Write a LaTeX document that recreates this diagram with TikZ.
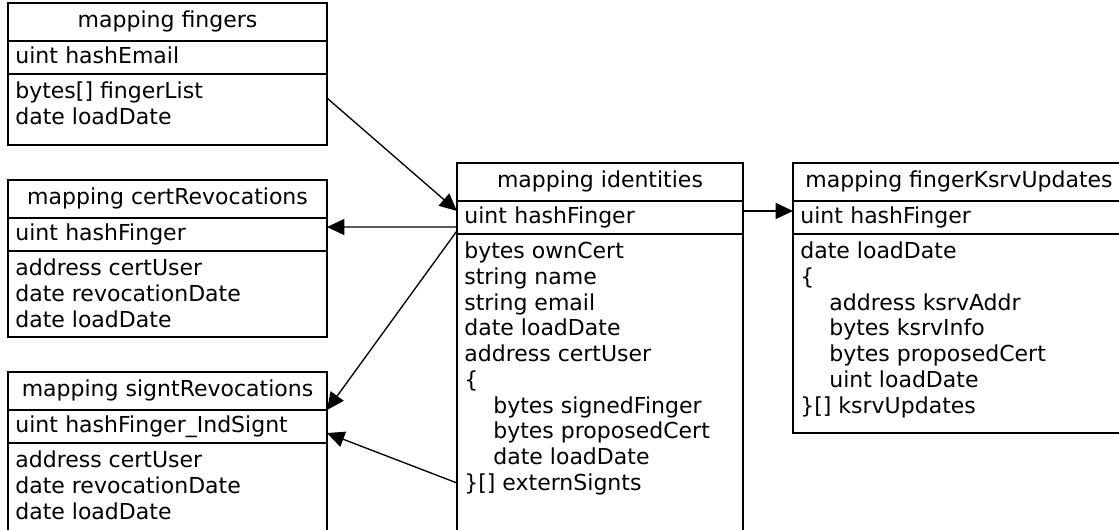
\documentclass[tikz,border=0pt]{standalone}
\usepackage{fontspec}
\setmainfont{DejaVu Sans}
\usetikzlibrary{arrows.meta,positioning}

\begin{document}
\begin{tikzpicture}[x=0.75pt,y=-0.75pt,>={Triangle[length=13pt,width=12pt]},
 line width=1pt,
 every node/.style={font=\fontsize{16.5pt}{19.3pt}\selectfont,outer sep=0pt},
 title/.style={draw,anchor=north,minimum height=28.5pt,inner sep=0pt,
 text height=12.5pt,text depth=3.9pt},
 keyrow/.style={draw,minimum height=24.75pt,inner xsep=5.5pt,inner ysep=0pt,
 text height=12.5pt,text depth=3.9pt,align=left},
 bodyrow/.style={draw,inner sep=0pt},
 fields/.style={anchor=north west,align=left,inner xsep=5.5pt,inner ysep=6pt}]
\useasboundingbox (0,0) rectangle (1119,529);
% mapping fingers
\node[title,minimum width=239.25pt] (fing-title) at (167.5,3) {mapping fingers};
\node[keyrow,text width=228.25pt,below=0pt of fing-title] (fing-key) {uint hashEmail};
\node[bodyrow,minimum width=239.25pt,minimum height=53.25pt,below=0pt of fing-key] (fing-body) {};
\node[fields] (fing-fields) at (fing-body.north west)
 {bytes[] fingerList\\date loadDate};
% mapping certRevocations
\node[title,minimum width=239.25pt] (cert-title) at (167.5,180) {mapping certRevocations};
\node[keyrow,text width=228.25pt,below=0pt of cert-title] (cert-key) {uint hashFinger};
\node[bodyrow,minimum width=239.25pt,minimum height=64.5pt,below=0pt of cert-key] (cert-body) {};
\node[fields] (cert-fields) at (cert-body.north west)
 {address certUser\\date revocationDate\\date loadDate};
% mapping signtRevocations
\node[title,minimum width=239.25pt] (sign-title) at (167.5,372) {mapping signtRevocations};
\node[keyrow,text width=228.25pt,below=0pt of sign-title] (sign-key) {uint hashFinger\_IndSignt};
\node[bodyrow,minimum width=239.25pt,minimum height=105pt,below=0pt of sign-key] (sign-body) {};
\node[fields] (sign-fields) at (sign-body.north west)
 {address certUser\\date revocationDate\\date loadDate};
% mapping identities
\node[title,minimum width=214.5pt] (ident-title) at (600,163) {mapping identities};
\node[keyrow,text width=203.5pt,below=0pt of ident-title] (ident-key) {uint hashFinger};
\node[bodyrow,minimum width=214.5pt,minimum height=229.5pt,below=0pt of ident-key] (ident-body) {};
\node[fields] (ident-fields) at (ident-body.north west)
 {bytes ownCert\\string name\\string email\\date loadDate\\address certUser\\\{\\
 \hspace*{21.75pt}bytes signedFinger\\\hspace*{21.75pt}bytes proposedCert\\
 \hspace*{21.75pt}date loadDate\\\}[] externSignts};
% mapping fingerKsrvUpdates
\node[title,minimum width=249pt] (ksrv-title) at (959,163) {mapping fingerKsrvUpdates};
\node[keyrow,text width=238pt,below=0pt of ksrv-title] (ksrv-key) {uint hashFinger};
\node[bodyrow,minimum width=249pt,minimum height=149.25pt,below=0pt of ksrv-key] (ksrv-body) {};
\node[fields] (ksrv-fields) at (ksrv-body.north west)
 {date loadDate\\\{\\\hspace*{21.75pt}address ksrvAddr\\\hspace*{21.75pt}bytes ksrvInfo\\
 \hspace*{21.75pt}bytes proposedCert\\\hspace*{21.75pt}uint loadDate\\\}[] ksrvUpdates};
% links
\draw[->] ([yshift=8.6pt]fing-body.east) -- ([yshift=4.9pt]ident-key.west);
\draw[->] ([yshift=-7.1pt]ident-key.west) -- ([yshift=5.6pt]cert-key.east);
\draw[->] ([yshift=-10pt]ident-key.west) -- (sign-title.south east);
\draw[->] ([yshift=-186.75pt]ident-body.north west) -- ([yshift=-4.9pt]sign-key.east);
\draw[->] ([yshift=4.9pt]ident-key.east) -- ([yshift=4.9pt]ksrv-key.west);
\end{tikzpicture}
\end{document}
